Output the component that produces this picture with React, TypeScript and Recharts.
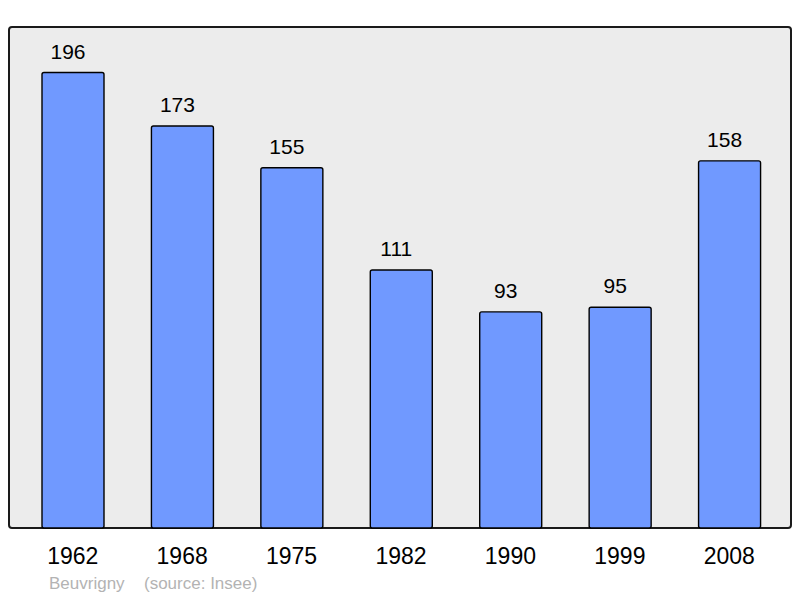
import React from 'react';
import { BarChart, Bar, XAxis, YAxis, LabelList } from 'recharts';

const years = ['1962', '1968', '1975', '1982', '1990', '1999', '2008'];
const population = [196, 173, 155, 111, 93, 95, 158];
const captionName = 'Beuvrigny';
const captionSource = '(source: Insee)';

const data = years.map((y, i) => ({ year: y, value: population[i] }));

const FONT = '"Liberation Sans", Arial, sans-serif';

export default function App() {
  return (
    <div style={{ position: 'absolute', left: 0, top: 0, width: 800, height: 598, fontFamily: FONT }}>
      <div
        style={{
          position: 'absolute',
          left: 8,
          top: 26,
          width: 784,
          height: 503,
          boxSizing: 'border-box',
          border: '2px solid #1a1a1a',
          borderRadius: 4,
          background: '#ececec',
        }}
      />
      <div style={{ position: 'absolute', left: 0, top: 0 }}>
        <BarChart
          width={800}
          height={598}
          data={data}
          margin={{ top: 27, right: 16, bottom: 0, left: 18 }}
        >
          <XAxis
            dataKey="year"
            axisLine={false}
            tickLine={false}
            tickSize={0}
            tickMargin={20}
            height={70}
            interval={0}
            tick={{ fill: '#000', fontSize: 23, fontFamily: FONT }}
          />
          <YAxis hide domain={[0, 215.6]} />
          <Bar
            dataKey="value"
            fill="#7099ff"
            stroke="#000"
            strokeWidth={1.4}
            barSize={62}
            radius={2}
            isAnimationActive={false}
          >
            <LabelList
              dataKey="value"
              position="top"
              offset={14}
              dx={-5}
              fill="#000"
              fontSize={21}
              fontFamily={FONT}
            />
          </Bar>
        </BarChart>
      </div>
      <div
        style={{
          position: 'absolute',
          left: 49,
          top: 574,
          fontSize: 17,
          color: '#b3b3b3',
          whiteSpace: 'pre',
          fontFamily: FONT,
        }}
      >
        {captionName}
      </div>
      <div
        style={{
          position: 'absolute',
          left: 144,
          top: 574,
          fontSize: 17,
          color: '#b3b3b3',
          whiteSpace: 'pre',
          fontFamily: FONT,
        }}
      >
        {captionSource}
      </div>
    </div>
  );
}
